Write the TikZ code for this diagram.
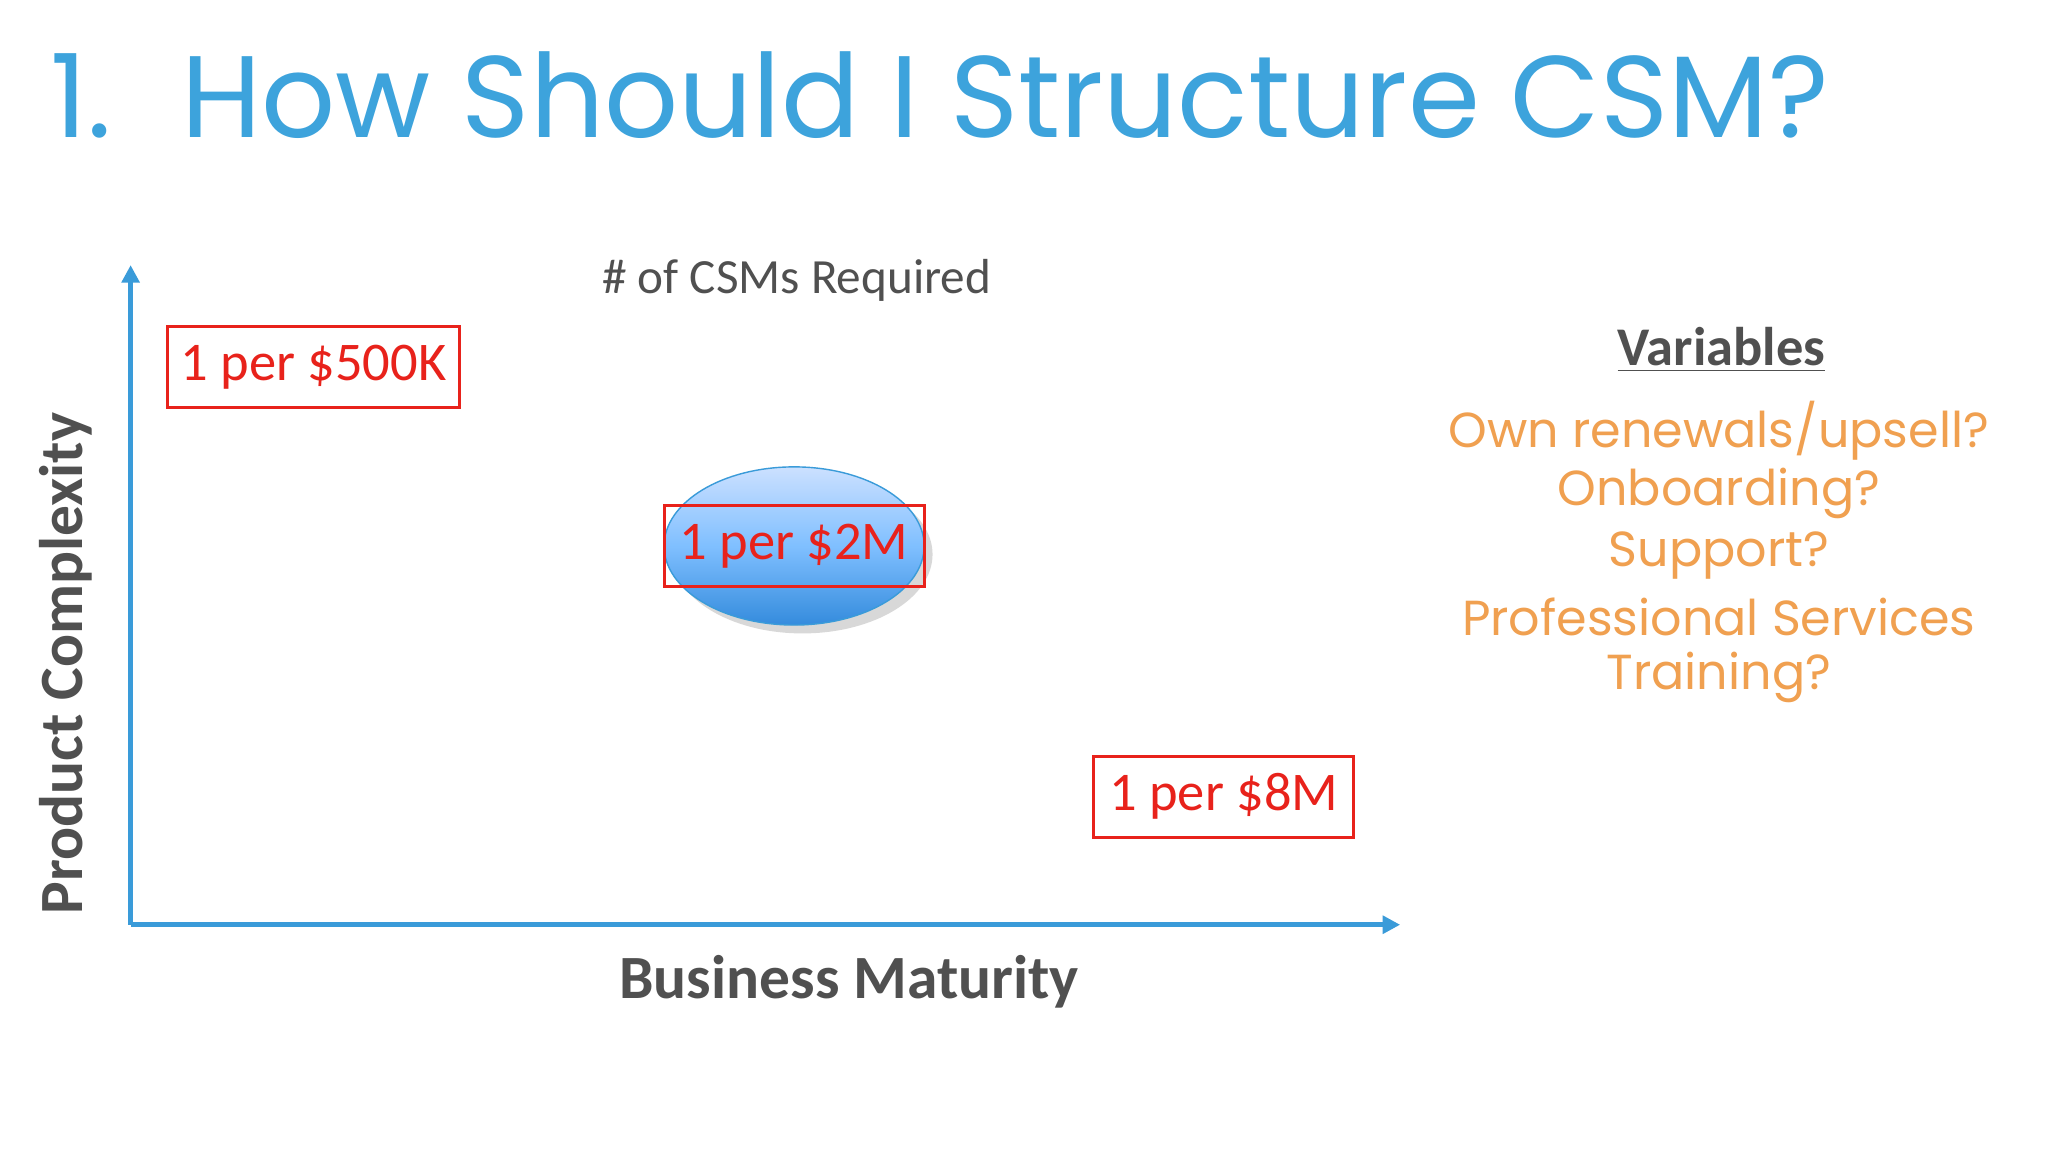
\documentclass[tikz,border=0pt]{standalone}
\usepackage{fontspec}
\setmainfont{Carlito}
\newfontfamily\titlefont{Poppins}
\usetikzlibrary{arrows.meta,shapes.geometric,shadows}
\definecolor{ttl}{HTML}{3DA3DC}
\definecolor{axis}{HTML}{3A9BD9}
\definecolor{gry}{HTML}{505050}
\definecolor{org}{HTML}{F0A050}
\definecolor{rd}{HTML}{E8221B}
\tikzset{pbox/.style={draw=rd,line width=0.9pt,text=rd,font=\fontsize{15.5}{18}\selectfont,minimum width=#1},
 vartxt/.style={text=org,font=\titlefont\fontsize{14}{16}\selectfont\addfontfeature{}}}
\begin{document}
\begin{tikzpicture}[x=0.013061cm,y=-0.013061cm]
\useasboundingbox[fill=white] (0,0) rectangle (1568,882);
\node[anchor=base west,text=ttl,font=\titlefont\fontsize{33}{36}\selectfont,inner sep=0] (title) at (38,105) {1.\hspace{0.6em}How Should I Structure CSM?};
\coordinate (o) at (100,708);
\coordinate (yt) at (100,203);
\coordinate (xr) at (1072,708);
\draw[axis,line width=1.4pt,-{Triangle[length=5pt,width=5pt]}] (o) -- (yt);
\draw[axis,line width=1.4pt,-{Triangle[length=5pt,width=5pt]}] (o) -- (xr);
\node[text=gry,font=\fontsize{14}{16}\selectfont] (csm) at (610,215) {\# of CSMs Required};
\node[pbox=83pt,minimum height=23pt] (a) at (240,281) {1 per \$500K};
\node[ellipse,minimum width=74pt,minimum height=45pt,top color=cyan!40!blue!20,bottom color=axis!90!blue,
      middle color=cyan!50!blue!50, draw=axis,drop shadow={opacity=0.3}] (e) at (608,418) {};
\node[pbox=74pt,minimum height=23pt] (b) at (608,418) {1 per \$2M};
\node[pbox=74pt,minimum height=23pt] (c) at (937,610) {1 per \$8M};
\node[rotate=90,text=gry,font=\bfseries\fontsize{17.5}{20}\selectfont] (pc) at (50,508) {Product Complexity};
\node[text=gry,font=\bfseries\fontsize{17.5}{20}\selectfont] (bm) at (650,752) {Business Maturity};
\node[text=gry,font=\bfseries\fontsize{15.5}{18}\selectfont] (var) at (1318,268) {\underline{Variables}};
\node[vartxt] (v1) at (1316,330) {Own renewals/upsell?};
\node[vartxt] (v2) at (1316,378) {Onboarding?};
\node[vartxt] (v3) at (1316,425) {Support?};
\node[vartxt] (v4) at (1316,472) {Professional Services};
\node[vartxt] (v5) at (1316,519) {Training?};
\end{tikzpicture}
\end{document}
